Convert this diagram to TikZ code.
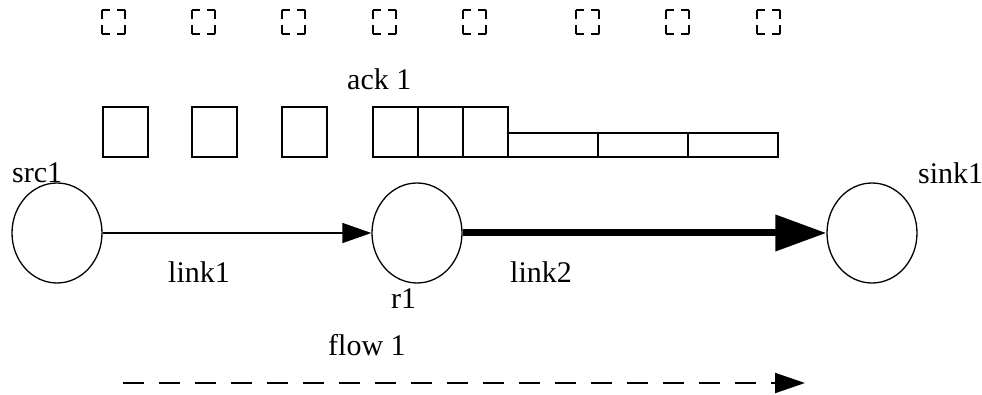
\documentclass[tikz,border=0pt]{standalone}
\usepackage{fontspec}
\setmainfont{Liberation Serif}
\usetikzlibrary{arrows.meta,shapes.geometric}

\begin{document}
\begin{tikzpicture}[line join=miter,x=1pt,y=-1pt,
  nd/.style={draw,ellipse,line width=1.3pt,minimum width=90pt,minimum height=100pt,inner sep=0pt},
  lbl/.style={anchor=base west,inner sep=0pt,font=\fontsize{30}{35}\selectfont},
  pkt/.style={draw,line width=1.6pt}]
\useasboundingbox (0,0) rectangle (982,395);
% ack slots
\foreach \x in {102,192,282,373,463,576,666,757} {
  \draw[line width=1.6pt,dash pattern=on 8pt off 7pt on 8pt off 0pt] (\x,10) -- +(23,0) (\x,34) -- +(23,0);
  \draw[line width=1.6pt,dash pattern=on 9pt off 6pt on 9pt off 0pt] (\x,10) -- +(0,24) (\x+23,10) -- +(0,24);
}
% packets
\foreach \x in {103,192,282,373,418,463} \draw[pkt] (\x,107) rectangle +(45,50);
\foreach \x in {508,598,688} \draw[pkt] (\x,133) rectangle +(90,24);
% nodes
\node[nd] (src) at (57,233) {};
\node[nd] (rt) at (417,233) {};
\node[nd] (sink) at (872,233) {};
\node[lbl] (srcname) at (12,183) {src1};
\node[lbl] (rtname) at (391,308) {r1};
\node[lbl] (sinkname) at (918,184) {sink1};
\node[lbl] (linkA) at (168,283) {link1};
\node[lbl] (linkB) at (510,283) {link2};
\node[lbl] (ack) at (347,90) {ack 1};
\node[lbl] (flow) at (328,355) {flow 1};
% links
\draw[line width=1.3pt,-{Triangle[length=29pt,width=20pt]}] (src) -- (rt);
\draw[line width=7pt,-{Triangle[length=51pt,width=35pt]}] (rt) -- (sink);
% flow
\coordinate (fstart) at (123,383);
\coordinate (fend) at (805,383);
\draw[line width=2pt,dash pattern=on 21pt off 15pt,-{Triangle[length=30pt,width=20pt]}] (fstart) -- (fend);
\end{tikzpicture}
\end{document}
